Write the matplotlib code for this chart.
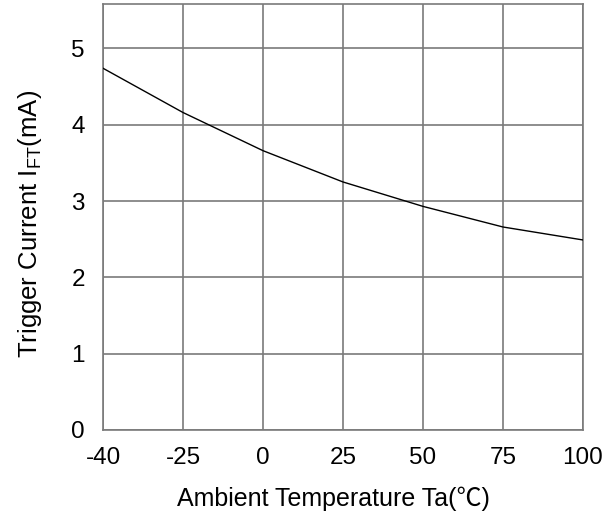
import numpy as np
import matplotlib.pyplot as plt

plt.rcParams['font.family'] = ['Liberation Sans', 'Noto Sans CJK SC', 'DejaVu Sans']
plt.rcParams['mathtext.fontset'] = 'custom'
plt.rcParams['mathtext.rm'] = 'Liberation Sans'

# ambient temperature (deg C) -> trigger current (mA)
temps = [-40, -25, 0, 25, 50, 75, 100]
current = [4.74, 4.16, 3.66, 3.25, 2.93, 2.66, 2.49]
ytick_vals = [0, 1, 2, 3, 4, 5]

fig = plt.figure(figsize=(6.06, 5.19), dpi=100)
ax = fig.add_axes([0.170, 0.1715, 0.792, 0.8205])

# ticks on the x axis are evenly spaced even though the values are not
pos = np.arange(len(temps))
ax.plot(pos, current, color='black', lw=1.0, zorder=3)

ax.set_xlim(0, len(temps) - 1)
ax.set_ylim(0, 5.58)
ax.set_xticks(pos)
ax.set_xticklabels([str(t) for t in temps])
ax.set_yticks(ytick_vals)
ax.grid(True, color='#7a7a7a', lw=1.2)
for s in ax.spines.values():
    s.set_color('#7a7a7a')
    s.set_linewidth(1.2)
ax.tick_params(length=0, labelsize=17.5, colors='black')
ax.tick_params(axis='x', pad=12)
ax.tick_params(axis='y', pad=13)

ax.set_xlabel('Ambient Temperature Ta(\u2103)', fontsize=18, labelpad=13)
ax.xaxis.label.set_x(0.48)
ax.set_ylabel(r'Trigger Current I$_{\mathrm{FT}}$(mA)', fontsize=18.5, labelpad=20)
ax.yaxis.label.set_y(0.485)

fig.savefig('out.png', dpi=100)
